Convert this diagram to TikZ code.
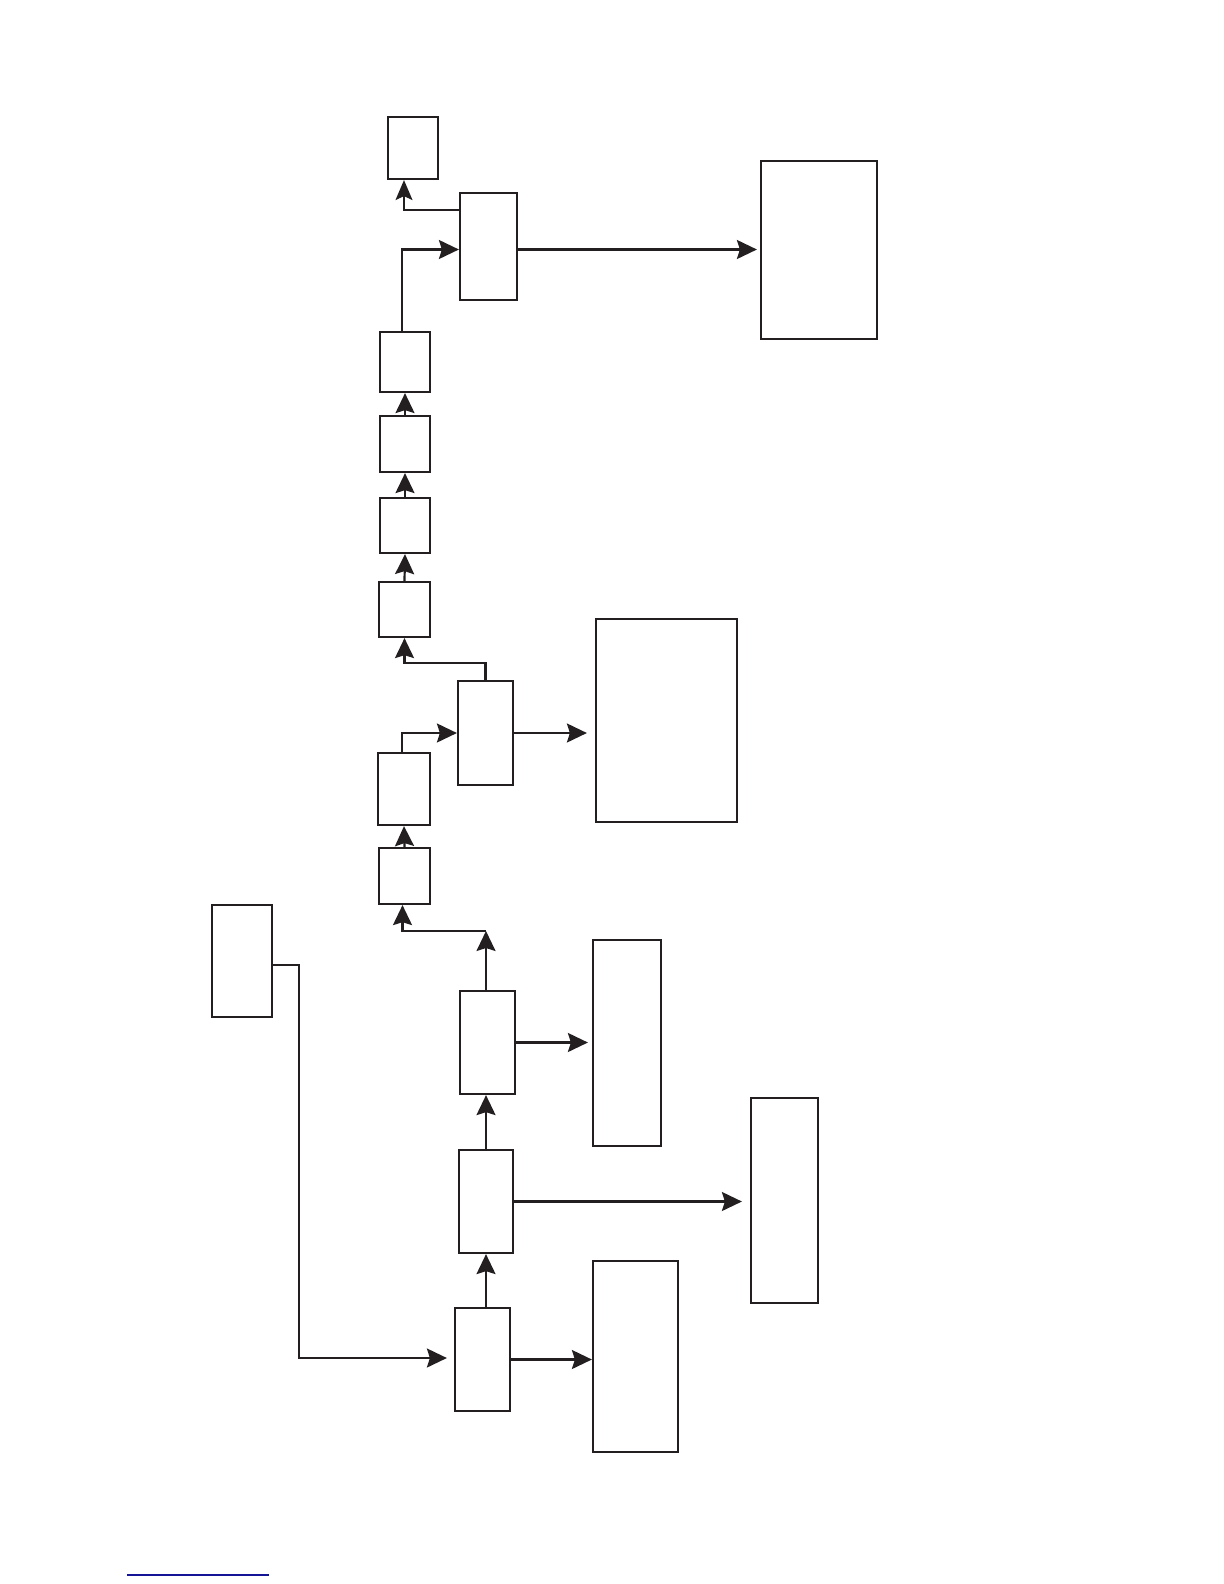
\documentclass[tikz,border=0pt]{standalone}
\usepackage{tikz}
\usetikzlibrary{arrows.meta,positioning,calc}
\definecolor{flowdark}{RGB}{35,31,32}
\definecolor{linkblue}{RGB}{20,20,150}

\tikzset{
  blk/.style={draw=flowdark, line width=1.1pt, fill=white, inner sep=0pt},
  flow/.style={draw=flowdark, line width=1.1pt, -{Stealth[length=10pt, width=9.5pt, inset=1.5pt]}},
  thinflow/.style={draw=flowdark, line width=0.6pt, -{Stealth[length=10pt, width=8.5pt, inset=2pt]}}
}

\begin{document}
\begin{tikzpicture}[x=0.5pt, y=-0.5pt]
\useasboundingbox (0,0) rectangle (1224,1584);

% upper part
\node[blk, minimum width=25pt, minimum height=31pt] (top) at (413,148) {};
\node[blk, minimum width=28.5pt, minimum height=53.5pt] (jb) at (488.5,246.5) {};
\node[blk, minimum width=58pt, minimum height=89pt] (outa) at (819,250) {};

% chain of small blocks
\node[blk, minimum width=25pt, minimum height=30pt] (ca) at (405,362) {};
\node[blk, minimum width=25pt, minimum height=28pt] (cb) at (405,444) {};
\node[blk, minimum width=25pt, minimum height=27.5pt] (cc) at (405,525.5) {};
\node[blk, minimum width=25.5pt, minimum height=27.5pt] (cd) at (404.5,609.5) {};

% middle part
\node[blk, minimum width=27.5pt, minimum height=52pt] (jc) at (485.5,733) {};
\node[blk, minimum width=70.5pt, minimum height=101.5pt] (outb) at (666.5,720.5) {};
\node[blk, minimum width=26pt, minimum height=36pt] (ce) at (404,789) {};
\node[blk, minimum width=25.5pt, minimum height=28pt] (cf) at (404.5,876) {};

% lower part
\node[blk, minimum width=30pt, minimum height=56pt] (src) at (242,961) {};
\node[blk, minimum width=27.5pt, minimum height=51.5pt] (jd) at (487.5,1042.5) {};
\node[blk, minimum width=34pt, minimum height=103pt] (outd) at (627,1043) {};
\node[blk, minimum width=27pt, minimum height=51.5pt] (je) at (486,1201.5) {};
\node[blk, minimum width=33.5pt, minimum height=102.5pt] (oute) at (784.5,1200.5) {};
\node[blk, minimum width=27.5pt, minimum height=51.5pt] (jf) at (482.5,1359.5) {};
\node[blk, minimum width=42.5pt, minimum height=95.5pt] (outf) at (635.5,1356.5) {};

% bend points
\coordinate (srcdn) at (299,1358);
\coordinate (jdup) at (486,931);
\coordinate (jcup) at (485.5,663);
\coordinate (jbl) at (460,210);
\coordinate (jbin) at ([yshift=-1.5pt]jb.west);
\coordinate (jbout) at ([yshift=-1.5pt]jb.east);

% connectors
\draw[flow, shorten >=3.5pt] ([yshift=-2pt]src.east) -| (srcdn) -- (jf.west |- srcdn);
\draw[flow] (jf.east) -- (outf.west |- jf.east);
\draw[flow] (jf.north -| je.south) -- (je.south);
\draw[flow, shorten >=4pt] (je.east) -- (oute.west |- je.east);
\draw[flow] (je.north) -- (je.north |- jd.south);
\draw[flow, shorten >=2pt] (jd.east) -- (outd.west |- jd.east);
\draw[flow] (jd.north -| jdup) -- (jdup);
\draw[flow] (jdup) -| ([xshift=-1pt]cf.south);
\draw[flow] (cf.north) -- (ce.south);
\draw[flow] ([xshift=-1pt]ce.north) |- (jc.west);
\draw[flow, shorten >=4pt] (jc.east) -- (outb.west |- jc.east);
\draw[flow] (jc.north) -- (jcup) -| (cd.south);
\draw[flow] (cd.north) -- (cc.south);
\draw[flow] (cc.north) -- (cb.south);
\draw[flow] (cb.north) -- (ca.south);
\draw[flow] ([xshift=-1.5pt]ca.north) |- (jbin);
\draw[flow, shorten >=1.5pt] (jbout) -- (outa.west |- jbout);
\draw[thinflow] (jbl) -| ([xshift=-4.5pt]top.south);

% link underline
\draw[linkblue, line width=0.8pt] (127,1575) -- (269,1575);
\end{tikzpicture}
\end{document}
